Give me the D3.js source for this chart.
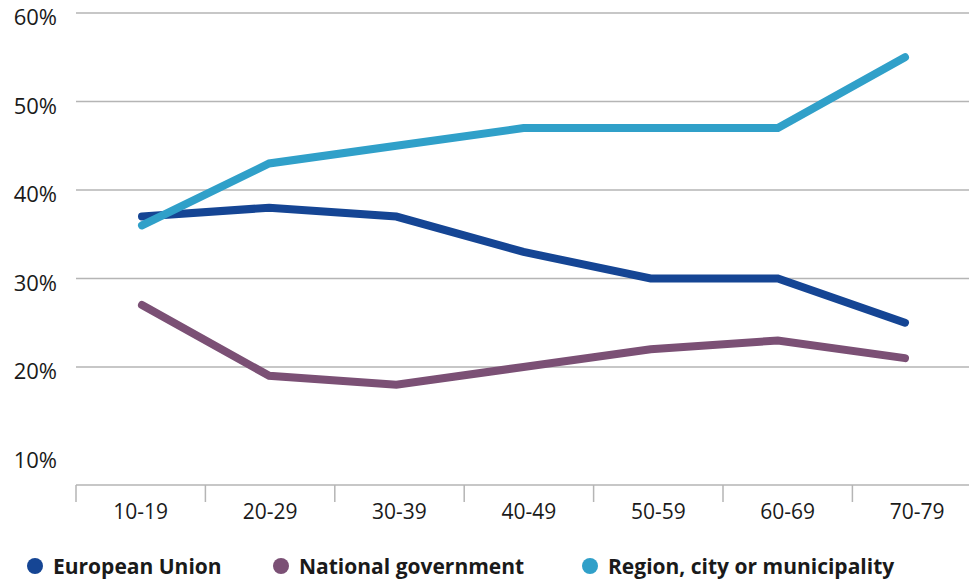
<!DOCTYPE html>
<meta charset="utf-8">
<style>
  body { margin: 0; background: #fff; }
  svg text { font-family: "Open Sans", "Noto Sans", sans-serif; fill: #1a1a1a; }
</style>
<script src="https://d3js.org/d3.v7.min.js"></script>
<div id="chart"></div>
<script>
  // data
  var ageGroups = ["10-19", "20-29", "30-39", "40-49", "50-59", "60-69", "70-79"];
  var europeanUnion = [37, 38, 37, 33, 30, 30, 25];
  var nationalGov = [27, 19, 18, 20, 22, 23, 21];
  var regionCity = [36, 43, 45, 47, 47, 47, 55];
  var yTicks = [10, 20, 30, 40, 50, 60];

  var series = [
    { name: "European Union", values: europeanUnion, color: "#154594" },
    { name: "National government", values: nationalGov, color: "#7b5075" },
    { name: "Region, city or municipality", values: regionCity, color: "#30a0c9" }
  ];

  var width = 969, height = 582;
  var svg = d3.select("#chart").append("svg")
    .attr("width", width)
    .attr("height", height);

  // band scale for axis ticks/labels
  var x = d3.scaleBand()
    .domain(ageGroups)
    .range([76, 76 + 129.4 * 7]);

  // point scale for the line vertices (slightly tighter than the bands)
  var xp = d3.scalePoint()
    .domain(ageGroups)
    .range([142, 905]);

  var y = d3.scaleLinear()
    .domain([10, 60])
    .range([455.5, 13]);

  var baseY = 485;

  // gridlines (no line at 10%)
  svg.append("g")
    .selectAll("line")
    .data(yTicks.filter(function (d) { return d > 10 }))
    .enter().append("line")
    .attr("x1", 76).attr("x2", width)
    .attr("y1", function (d) { return y(d) })
    .attr("y2", function (d) { return y(d) })
    .attr("stroke", "#b5b5b5")
    .attr("stroke-width", 1.5);

  // y labels
  svg.append("g")
    .selectAll("text")
    .data(yTicks)
    .enter().append("text")
    .attr("x", 57)
    .attr("y", function (d) { return y(d) + 12 })
    .attr("text-anchor", "end")
    .style("font-size", "22px")
    .text(function (d) { return d + "%" });

  // x axis
  var xAxis = svg.append("g");
  xAxis.append("line")
    .attr("x1", 76).attr("x2", width)
    .attr("y1", baseY).attr("y2", baseY)
    .attr("stroke", "#b5b5b5")
    .attr("stroke-width", 1.5);
  xAxis.selectAll(".tick")
    .data(ageGroups)
    .enter().append("line")
    .attr("x1", function (d) { return x(d) })
    .attr("x2", function (d) { return x(d) })
    .attr("y1", baseY).attr("y2", baseY + 17)
    .attr("stroke", "#b5b5b5")
    .attr("stroke-width", 1.5);
  xAxis.selectAll("text")
    .data(ageGroups)
    .enter().append("text")
    .attr("x", function (d) { return x(d) + x.bandwidth() / 2 })
    .attr("y", baseY + 34)
    .attr("text-anchor", "middle")
    .style("font-size", "21px")
    .text(function (d) { return d });

  // lines
  var line = d3.line()
    .x(function (d, i) { return xp(ageGroups[i]) })
    .y(function (d) { return y(d) });

  svg.append("g")
    .selectAll("path")
    .data(series)
    .enter().append("path")
    .attr("d", function (d) { return line(d.values) })
    .attr("fill", "none")
    .attr("stroke", function (d) { return d.color })
    .attr("stroke-width", 8)
    .attr("stroke-linecap", "round")
    .attr("stroke-linejoin", "miter");

  // legend
  var legendX = [35, 281, 590];
  var legend = svg.append("g")
    .selectAll("g")
    .data(series)
    .enter().append("g")
    .attr("transform", function (d, i) { return "translate(" + legendX[i] + ",566)" });
  legend.append("circle")
    .attr("r", 8)
    .attr("fill", function (d) { return d.color });
  legend.append("text")
    .attr("x", 18)
    .attr("y", 8)
    .style("font-size", "21px")
    .style("font-weight", "bold")
    .text(function (d) { return d.name });
</script>
